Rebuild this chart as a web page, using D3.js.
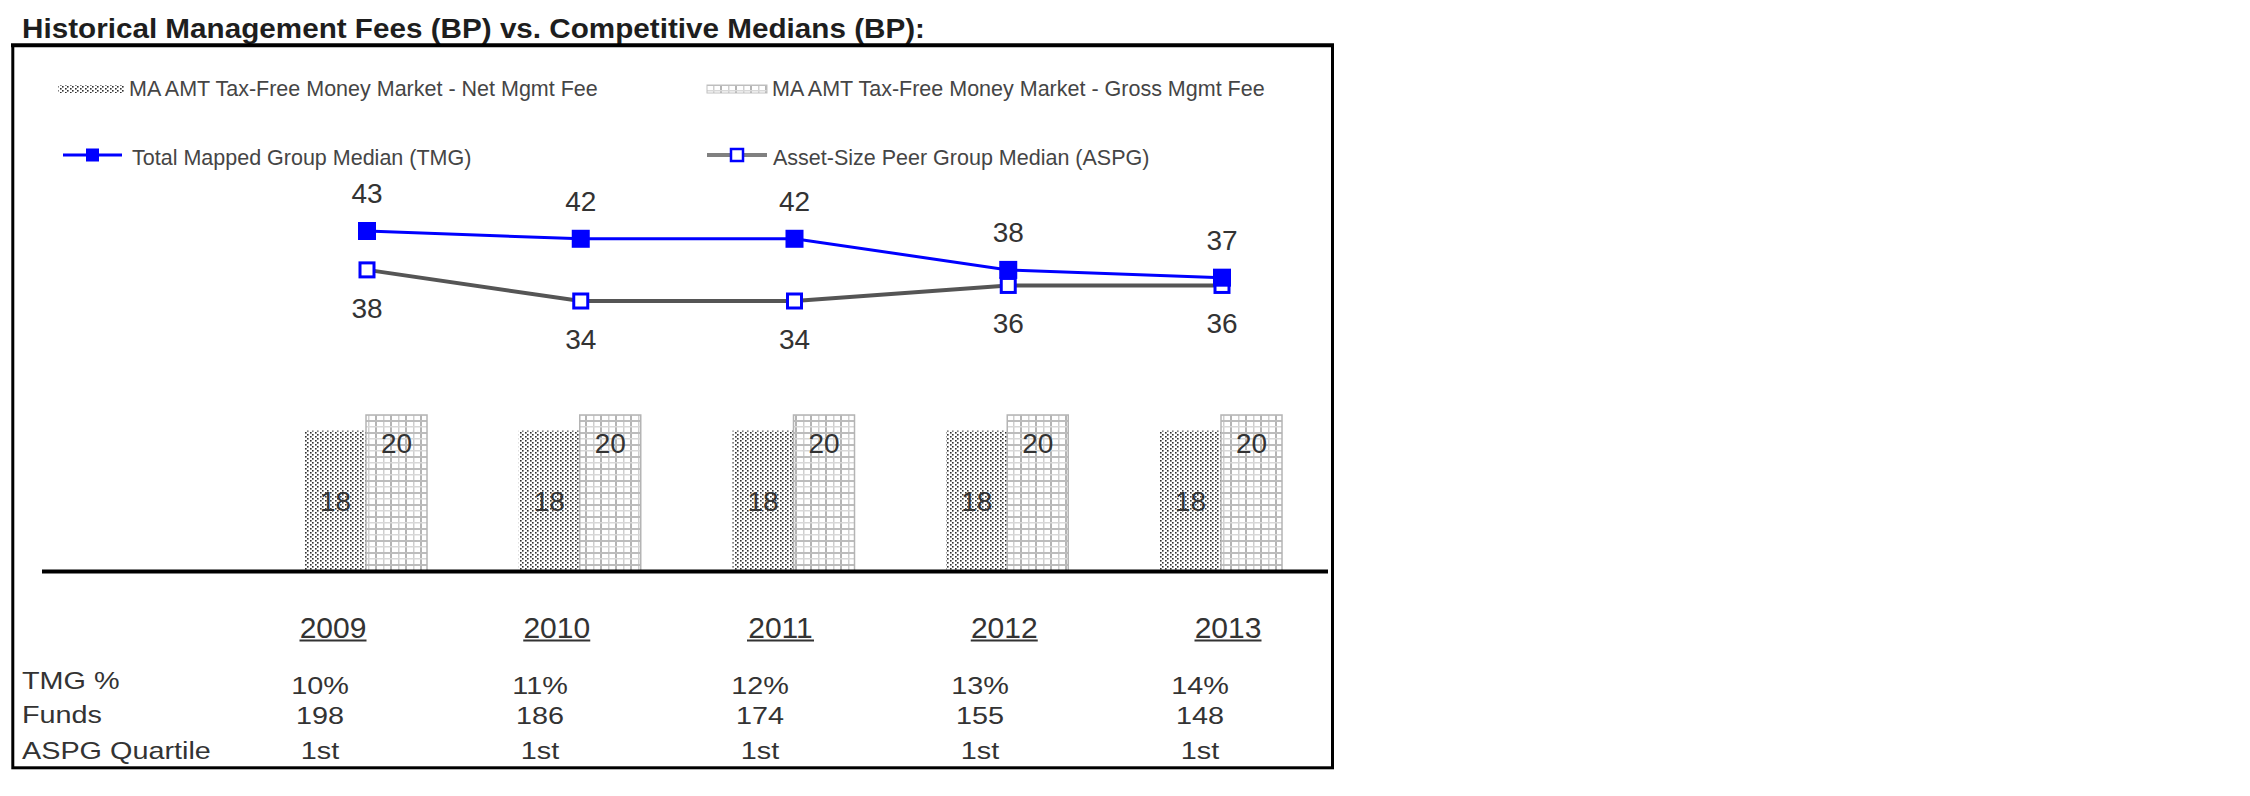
<!DOCTYPE html>
<html><head><meta charset="utf-8">
<script src="https://cdn.jsdelivr.net/npm/d3@7"></script>
<style>
body{margin:0;background:#fff;}
text{font-family:"Liberation Sans",Arial,Helvetica,sans-serif;}
</style>
</head><body>
<svg id="chart" width="2250" height="796"></svg>
<script>
// ---------- data ----------
const titleText = "Historical Management Fees (BP) vs. Competitive Medians (BP):";
const years = ["2009", "2010", "2011", "2012", "2013"];
const netMgmtFee = [18, 18, 18, 18, 18];
const grossMgmtFee = [20, 20, 20, 20, 20];
const tmgMedian = [43, 42, 42, 38, 37];
const aspgMedian = [38, 34, 34, 36, 36];
const tmgPct = ["10%", "11%", "12%", "13%", "14%"];
const funds = ["198", "186", "174", "155", "148"];
const aspgQuartile = ["1st", "1st", "1st", "1st", "1st"];
const rowLabels = ["TMG %", "Funds", "ASPG Quartile"];
const legendNames = [
  "MA AMT Tax-Free Money Market - Net Mgmt Fee",
  "MA AMT Tax-Free Money Market - Gross Mgmt Fee",
  "Total Mapped Group Median (TMG)",
  "Asset-Size Peer Group Median (ASPG)"
];

// ---------- setup ----------
const svg = d3.select("#chart");
svg.append("rect").attr("width", 2250).attr("height", 796).attr("fill", "#fff");
const defs = svg.append("defs");

// dotted pattern (net fee)
const pDots = defs.append("pattern").attr("id", "dots")
  .attr("patternUnits", "userSpaceOnUse").attr("width", 10).attr("height", 4);
pDots.append("rect").attr("width", 10).attr("height", 4).attr("fill", "#fff");
[[0,0],[2,2],[5,0],[7,2]].forEach(([a,b]) =>
  pDots.append("rect").attr("x", a).attr("y", b).attr("width", 1.6).attr("height", 1.6).attr("fill", "#303030"));

// grid pattern (gross fee)
const pGrid = defs.append("pattern").attr("id", "grid")
  .attr("patternUnits", "userSpaceOnUse").attr("width", 15).attr("height", 12);
pGrid.append("rect").attr("width", 15).attr("height", 12).attr("fill", "#fff");
pGrid.append("rect").attr("x", 0).attr("y", 0).attr("width", 2).attr("height", 12).attr("fill", "#b4b4b4");
pGrid.append("rect").attr("x", 8).attr("y", 0).attr("width", 1.5).attr("height", 12).attr("fill", "#cfcfcf");
pGrid.append("rect").attr("x", 0).attr("y", 0).attr("width", 15).attr("height", 2).attr("fill", "#bcbcbc");
pGrid.append("rect").attr("x", 0).attr("y", 6).attr("width", 15).attr("height", 1.5).attr("fill", "#d8d8d8");

// ---------- title & frame ----------
svg.append("text").attr("x", 22).attr("y", 38)
  .attr("font-size", 28).attr("font-weight", "bold").attr("fill", "#1e1e1e")
  .attr("textLength", 903).attr("lengthAdjust", "spacingAndGlyphs")
  .text(titleText);

svg.append("rect").attr("x", 12.8).attr("y", 45.5).attr("width", 1319.7).attr("height", 722.3)
  .attr("fill", "none").attr("stroke", "#000").attr("stroke-width", 3);
svg.append("line").attr("x1", 11).attr("x2", 1334).attr("y1", 45.3).attr("y2", 45.3)
  .attr("stroke", "#000").attr("stroke-width", 4);

// ---------- scales ----------
const x = d3.scalePoint().domain(years).range([367, 1222]);
const xSub = d3.scaleBand().domain(["net", "gross"]).range([-62, 60]);
const yBar = d3.scaleLinear().domain([0, 20]).range([571, 415]);
const yLine = d3.scaleLinear().domain([34, 43]).range([301, 231]);

// ---------- bars ----------
const g = svg.append("g");
g.selectAll("rect.net").data(netMgmtFee).join("rect").attr("class", "net")
  .attr("x", (d, i) => x(years[i]) + xSub("net"))
  .attr("y", d => yBar(d))
  .attr("width", xSub.bandwidth())
  .attr("height", d => yBar(0) - yBar(d))
  .attr("fill", "url(#dots)");
g.selectAll("rect.gross").data(grossMgmtFee).join("rect").attr("class", "gross")
  .attr("x", (d, i) => x(years[i]) + xSub("gross"))
  .attr("y", d => yBar(d))
  .attr("width", xSub.bandwidth())
  .attr("height", d => yBar(0) - yBar(d))
  .attr("fill", "url(#grid)")
  .attr("stroke", "#b4b4b4").attr("stroke-width", 1.5);

g.selectAll("text.netlab").data(netMgmtFee).join("text").attr("class", "netlab")
  .attr("x", (d, i) => x(years[i]) + xSub("net") + xSub.bandwidth() / 2)
  .attr("y", d => (yBar(d) + yBar(0)) / 2 + 10)
  .attr("text-anchor", "middle").attr("font-size", 28).attr("fill", "#333")
  .text(d => d);
g.selectAll("text.grosslab").data(grossMgmtFee).join("text").attr("class", "grosslab")
  .attr("x", (d, i) => x(years[i]) + xSub("gross") + xSub.bandwidth() / 2)
  .attr("y", d => yBar(d) + 38)
  .attr("text-anchor", "middle").attr("font-size", 28).attr("fill", "#333")
  .text(d => d);

// axis baseline
svg.append("line").attr("x1", 42).attr("x2", 1328).attr("y1", yBar(0) + 0.5).attr("y2", yBar(0) + 0.5)
  .attr("stroke", "#000").attr("stroke-width", 4);

// ---------- lines ----------
const lineGen = d3.line().x((d, i) => x(years[i])).y(d => yLine(d));
svg.append("path").datum(aspgMedian).attr("d", lineGen)
  .attr("fill", "none").attr("stroke", "#555").attr("stroke-width", 4);
svg.selectAll("rect.aspg").data(aspgMedian).join("rect").attr("class", "aspg")
  .attr("x", (d, i) => x(years[i]) - 7).attr("y", d => yLine(d) - 7)
  .attr("width", 14).attr("height", 14)
  .attr("fill", "#fff").attr("stroke", "#0000ff").attr("stroke-width", 3);
svg.append("path").datum(tmgMedian).attr("d", lineGen)
  .attr("fill", "none").attr("stroke", "#0000ff").attr("stroke-width", 3);
svg.selectAll("rect.tmg").data(tmgMedian).join("rect").attr("class", "tmg")
  .attr("x", (d, i) => x(years[i]) - 9).attr("y", d => yLine(d) - 9)
  .attr("width", 18).attr("height", 18).attr("fill", "#0000ff");

svg.selectAll("text.tmglab").data(tmgMedian).join("text").attr("class", "tmglab")
  .attr("x", (d, i) => x(years[i])).attr("y", d => yLine(d) - 28)
  .attr("text-anchor", "middle").attr("font-size", 28).attr("fill", "#333")
  .text(d => d);
svg.selectAll("text.aspglab").data(aspgMedian).join("text").attr("class", "aspglab")
  .attr("x", (d, i) => x(years[i])).attr("y", d => yLine(d) + 48)
  .attr("text-anchor", "middle").attr("font-size", 28).attr("fill", "#333")
  .text(d => d);

// ---------- legend ----------
const lg = svg.append("g").attr("font-size", 21.5).attr("fill", "#454545");
lg.append("rect").attr("x", 58).attr("y", 85).attr("width", 67).attr("height", 8).attr("fill", "url(#dots)");
lg.append("text").attr("x", 129).attr("y", 95.5).text(legendNames[0]);
lg.append("rect").attr("x", 707).attr("y", 85).attr("width", 60).attr("height", 8)
  .attr("fill", "url(#grid)").attr("stroke", "#c0c0c0").attr("stroke-width", 1);
lg.append("text").attr("x", 772).attr("y", 95.5).text(legendNames[1]);

lg.append("line").attr("x1", 63).attr("x2", 122).attr("y1", 155).attr("y2", 155)
  .attr("stroke", "#0000ff").attr("stroke-width", 3);
lg.append("rect").attr("x", 86).attr("y", 148.5).attr("width", 13).attr("height", 13).attr("fill", "#0000ff");
lg.append("text").attr("x", 132).attr("y", 165).text(legendNames[2]);

lg.append("line").attr("x1", 707).attr("x2", 767).attr("y1", 155).attr("y2", 155)
  .attr("stroke", "#808080").attr("stroke-width", 4);
lg.append("rect").attr("x", 731).attr("y", 149).attr("width", 12).attr("height", 12)
  .attr("fill", "#fff").attr("stroke", "#0000ff").attr("stroke-width", 2.5);
lg.append("text").attr("x", 773).attr("y", 165).text(legendNames[3]);

// ---------- table ----------
const xYear = d3.scalePoint().domain(years).range([333, 1228]);
const xVal = d3.scalePoint().domain(years).range([320, 1200]);

const yrs = svg.selectAll("g.yr").data(years).join("g").attr("class", "yr");
yrs.append("text").attr("x", d => xYear(d)).attr("y", 638)
  .attr("text-anchor", "middle").attr("font-size", 30).attr("fill", "#333")
  .text(d => d);
yrs.append("line")
  .attr("x1", d => xYear(d) - 33.5).attr("x2", d => xYear(d) + 33.5)
  .attr("y1", 640.5).attr("y2", 640.5).attr("stroke", "#333").attr("stroke-width", 2);

const rowBase = [689, 723, 758.5];
const valBase = [694, 724, 759];
const rows = [tmgPct, funds, aspgQuartile];
rowLabels.forEach((lab, r) => {
  svg.append("text").attr("transform", `translate(22,${rowBase[r]}) scale(1.2,1)`)
    .attr("font-size", 24).attr("fill", "#333").text(lab);
  svg.selectAll(null).data(rows[r]).join("text")
    .attr("transform", (d, i) => `translate(${xVal(years[i])},${valBase[r]}) scale(1.2,1)`)
    .attr("text-anchor", "middle").attr("font-size", 24).attr("fill", "#333")
    .text(d => d);
});
</script>
</body></html>
